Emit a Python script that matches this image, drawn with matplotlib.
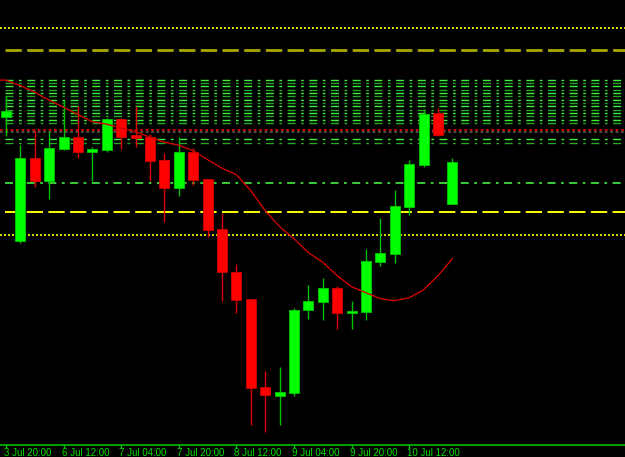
import numpy as np
import matplotlib
matplotlib.use("Agg")
import matplotlib.pyplot as plt
from matplotlib import transforms

plt.rcParams['lines.scale_dashes'] = False
plt.rcParams['font.family'] = ['Liberation Sans', 'DejaVu Sans']

# 4h candles, prices in chart units (height above the time axis)
opens  = [327.3, 203.3, 286.7, 264.0, 295.7, 307.3, 292.3, 295.0, 326.0, 309.3, 307.3, 284.7,
          256.7, 292.7, 265.7, 216.0, 173.0, 146.0, 57.7, 48.3, 51.7, 135.0, 142.3, 156.7,
          131.3, 132.3, 183.0, 191.0, 237.7, 280.0, 331.7, 241.0]
highs  = [348.3, 300.0, 315.0, 313.3, 345.0, 339.0, 298.0, 327.0, 327.0, 338.3, 311.0, 291.7,
          307.3, 296.7, 266.0, 231.7, 181.0, 146.0, 74.0, 78.0, 136.7, 160.0, 166.7, 159.0,
          144.0, 196.0, 227.0, 255.0, 285.0, 335.7, 336.7, 287.0]
lows   = [309.0, 202.0, 258.0, 246.0, 295.0, 287.0, 263.3, 293.0, 296.0, 297.3, 264.0, 222.3,
          249.0, 259.3, 207.3, 143.3, 131.3, 20.0, 12.3, 19.3, 49.0, 126.0, 125.0, 116.0,
          116.0, 125.0, 178.3, 181.7, 230.0, 277.3, 309.0, 241.0]
closes = [334.0, 286.7, 264.0, 296.7, 307.3, 292.3, 295.7, 326.0, 307.3, 306.3, 283.3, 256.7,
          292.7, 265.0, 215.0, 172.3, 145.0, 56.7, 50.0, 52.3, 135.0, 143.3, 156.7, 131.7,
          134.0, 184.0, 192.0, 239.0, 281.0, 330.7, 310.0, 282.7]

# moving average, first value belongs to the bar before the first visible one
ma_values = [365.0, 364.5, 359.0, 352.5, 344.5, 337.5, 330.0, 323.0, 320.5, 316.7, 313.0, 307.5,
             302.5, 299.5, 294.0, 285.0, 276.5, 270.0, 254.0, 234.0, 218.0, 206.0, 192.0, 182.5,
             169.0, 158.0, 152.0, 146.0, 144.0, 147.0, 155.0, 169.0, 186.0]

tick_bars = [0, 4, 8, 12, 16, 20, 24, 28]
tick_labels = ["3 Jul 20:00", "6 Jul 12:00", "7 Jul 04:00", "7 Jul 20:00",
               "8 Jul 12:00", "9 Jul 04:00", "9 Jul 20:00", "10 Jul 12:00"]

# horizontal levels
band_levels = [364.7, 361.7, 358.3, 355.0, 351.7, 348.3, 345.0, 341.7, 338.3, 335.0,
               331.7, 328.3, 325.0, 321.7, 305.3, 301.7]
upper_dotted = 416.7
upper_dashed = 394.3
red_level = 314.7
gray_level = 312.3
mid_dashdot = 261.7
lower_dashed = 232.7
lower_dotted = 209.7

PX = 0.72  # one pixel in points at dpi 100
bull, bear = '#00ff00', '#ff0000'

fig = plt.figure(figsize=(6.25, 4.57), dpi=100, facecolor='black')
ax = fig.add_axes([0, 12.3 / 457, 1, 444.7 / 457])
ax.set_facecolor('black')

x = np.arange(len(opens))
xl = -6 / 14.4
ax.set_xlim(xl, xl + 625 / 14.4)
ax.set_ylim(0, 444.7)
x0 = (5.3 - 6) / 14.4

# levels
band_style = (0, (8 * PX, 5.5 * PX, 2.7 * PX, 5.5 * PX))
for k, lv in enumerate(band_levels):
    col = '#3cf03c' if k % 2 == 0 else '#26a626'
    ax.hlines(lv, x0, 50, colors=col, lw=1, linestyles=[band_style])
ax.hlines(mid_dashdot, x0, 50, colors='#44ee44', lw=1.2, linestyles=[band_style])
ax.hlines(upper_dotted, xl, 50, colors='#ffff00', lw=1.2, linestyles=[(0, (2 * PX, 2 * PX))])
ax.hlines(lower_dotted, xl, 50, colors='#ffff00', lw=1.2, linestyles=[(0, (2 * PX, 2 * PX))])
ax.hlines(upper_dashed, x0, 50, colors='#a8a800', lw=2, linestyles=[(0, (16.3 * PX, 5.4 * PX))])
ax.hlines(lower_dashed, x0, 50, colors='#ffff00', lw=1.4, linestyles=[(0, (16.3 * PX, 5.4 * PX))])
ax.hlines(red_level, xl, 50, colors='#e00000', lw=1.3, linestyles=[(0, (2.7 * PX, 2.7 * PX))])
ax.hlines(gray_level, xl, 50, colors='#555555', lw=1.3, linestyles=[(0, (2.7 * PX, 2.7 * PX))])

# candles
o, h, l, c = map(np.array, (opens, highs, lows, closes))
up = c >= o
wick_cols = np.where(up, '#00c000', '#e00000')
ax.vlines(x, l, h, colors=wick_cols, lw=1, zorder=3)
body_low = np.minimum(o, c)
body_h = np.maximum(np.abs(c - o), 1.5)
ax.bar(x, body_h, bottom=body_low, width=10 / 14.4,
       color=np.where(up, bull, bear), edgecolor=np.where(up, '#00c800', '#d00000'),
       linewidth=0.6, zorder=4)

# moving average
ax.plot(np.arange(-1, len(opens)), ma_values, color='#d00000', lw=1, zorder=5)

# time axis
for s in ['top', 'left', 'right']:
    ax.spines[s].set_visible(False)
ax.spines['bottom'].set_color('#00c000')
ax.spines['bottom'].set_linewidth(1.2)
ax.set_yticks([])
ax.set_xticks(tick_bars)
ax.set_xticklabels(tick_labels)
ax.tick_params(axis='x', colors='#00c000', direction='out', length=3 * PX,
               width=1, pad=0.5, labelsize=7, labelcolor='#00e000')
offset = transforms.ScaledTranslation(-2 / 100, 0, fig.dpi_scale_trans)
for lbl in ax.get_xticklabels():
    lbl.set_horizontalalignment('left')
    lbl.set_transform(lbl.get_transform() + offset)

fig.savefig('out.png', dpi=100, facecolor='black')
